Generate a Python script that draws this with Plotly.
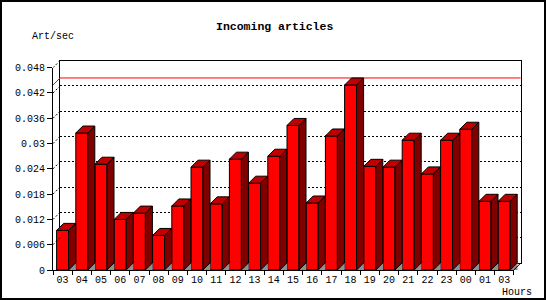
import plotly.graph_objects as go

# ---------------- data ----------------
hours = ["03", "04", "05", "06", "07", "08", "09", "10", "11", "12", "13", "14",
         "15", "16", "17", "18", "19", "20", "21", "22", "23", "00", "01", "03"]
values = [0.0094, 0.0325, 0.0251, 0.0120, 0.0135, 0.0082, 0.0152, 0.0244,
          0.0157, 0.0263, 0.0206, 0.0270, 0.0343, 0.0159, 0.0318, 0.0439,
          0.0246, 0.0244, 0.0308, 0.0228, 0.0308, 0.0334, 0.0163, 0.0163]
y_tickvals = [0, 0.006, 0.012, 0.018, 0.024, 0.030, 0.036, 0.042, 0.048]
y_ticktext = ["0", "0.006", "0.012", "0.018", "0.024", "0.03", "0.036", "0.042", "0.048"]
title = "Incoming articles"
y_title = "Art/sec"
x_title = "Hours"
peak = max(values)

# ---------------- layout geometry (pixels) ----------------
W, H = 550, 300
FX0, FX1 = 53.0, 513.8      # front plot left/right
FY0, FY1 = 270.0, 67.7      # front plot bottom/top (from top)
DEPTH = 7.0                 # 3D offset in px (right & up)
BAR_W = 0.625
n = len(values)
YMAX = y_tickvals[-1]
x_lo, x_hi = -0.5, n - 0.5
sx = (FX1 - FX0) / (x_hi - x_lo)
sy = (FY0 - FY1) / YMAX
ddx = DEPTH / sx
ddy = DEPTH / sy
xs = list(range(n))
hw = BAR_W / 2

FONT = "Liberation Mono"

fig = go.Figure()

# back plane (subplot x/y): grid + peak line
fig.add_trace(go.Scatter(x=[x_lo, x_hi], y=[peak, peak], mode="lines",
                         line=dict(color="#ff0000", width=1),
                         xaxis="x", yaxis="y", hoverinfo="skip", showlegend=False))

# front faces (subplot x2/y2)
fig.add_trace(go.Bar(x=xs, y=values, width=BAR_W, marker=dict(color="#ff0000",
                     line=dict(color="black", width=1)),
                     xaxis="x2", yaxis="y2", showlegend=False, hoverinfo="skip"))

# depth faces (subplot x3/y3)
tops_x, tops_y, side_x, side_y, sh_x, sh_y = [], [], [], [], [], []
for c, v in zip(xs, values):
    tops_x += [c - hw, c + hw, c + hw + ddx, c - hw + ddx, c - hw, None]
    tops_y += [v, v, v + ddy, v + ddy, v, None]
    side_x += [c + hw, c + hw, c + hw + ddx, c + hw + ddx, c + hw, None]
    side_y += [0, v, v + ddy, ddy, 0, None]
    sh_x += [c + hw, c + hw + ddx, c + hw + ddx, c + hw, None]
    sh_y += [0, ddy, 0, 0, None]

fig.add_trace(go.Scatter(x=sh_x, y=sh_y, mode="lines", fill="toself",
                         fillcolor="#909090", line=dict(color="#909090", width=0.5),
                         xaxis="x3", yaxis="y3", hoverinfo="skip", showlegend=False))
fig.add_trace(go.Scatter(x=side_x, y=side_y, mode="lines", fill="toself",
                         fillcolor="#800000", line=dict(color="black", width=1),
                         xaxis="x3", yaxis="y3", hoverinfo="skip", showlegend=False))
fig.add_trace(go.Scatter(x=tops_x, y=tops_y, mode="lines", fill="toself",
                         fillcolor="#c00000", line=dict(color="black", width=1),
                         xaxis="x3", yaxis="y3", hoverinfo="skip", showlegend=False))
# left diagonal stubs from front axis to back plane
stub_x, stub_y = [], []
for t in y_tickvals[1:]:
    stub_x += [x_lo, x_lo + ddx, None]
    stub_y += [t, t + ddy, None]
fig.add_trace(go.Scatter(x=stub_x, y=stub_y, mode="lines",
                         line=dict(color="black", width=1, dash="2px,2px"),
                         xaxis="x3", yaxis="y3", hoverinfo="skip", showlegend=False))
fig.add_trace(go.Scatter(x=[x_lo, x_lo + ddx], y=[peak, peak + ddy], mode="lines",
                         line=dict(color="#ff0000", width=1),
                         xaxis="x3", yaxis="y3", hoverinfo="skip", showlegend=False))
fig.add_trace(go.Scatter(x=[x_hi, x_hi + ddx], y=[0, ddy], mode="lines",
                         line=dict(color="black", width=1),
                         xaxis="x3", yaxis="y3", hoverinfo="skip", showlegend=False))

def px_x(p):
    return p / W

def px_y(p):
    return 1 - p / H

tickfont = dict(family=FONT, size=10, color="black")

fig.update_layout(
    template="none",
    width=W, height=H,
    margin=dict(l=0, r=0, t=0, b=0, pad=0),
    paper_bgcolor="white", plot_bgcolor="rgba(0,0,0,0)",
    showlegend=False,
    # back plane
    xaxis=dict(domain=[px_x(FX0 + DEPTH), px_x(FX1 + DEPTH)], range=[x_lo, x_hi],
               showline=True, mirror=True, linecolor="black", linewidth=1,
               showgrid=False, zeroline=False, showticklabels=False, ticks="",
               automargin=False, fixedrange=True),
    yaxis=dict(domain=[px_y(FY0 - DEPTH), px_y(FY1 - DEPTH)], range=[0, YMAX],
               showline=True, mirror=True, linecolor="black", linewidth=1,
               tickvals=y_tickvals, showgrid=True, gridcolor="black", gridwidth=1,
               griddash="2px,2px", zeroline=False, showticklabels=False, ticks="",
               automargin=False, fixedrange=True),
    # front
    xaxis2=dict(domain=[px_x(FX0), px_x(FX1)], range=[x_lo, x_hi], anchor="y2",
                showline=True, linecolor="black", linewidth=1,
                tickvals=xs, ticktext=hours, ticks="", showgrid=False, zeroline=False,
                minor=dict(tickvals=[x_lo + i for i in range(n + 1)], ticks="outside",
                           ticklen=4, tickcolor="black", tickwidth=1, showgrid=False),
                tickfont=tickfont, automargin=False, fixedrange=True),
    yaxis2=dict(domain=[px_y(FY0), px_y(FY1)], range=[0, YMAX], anchor="x2",
                showline=True, linecolor="black", linewidth=1,
                tickvals=y_tickvals, ticktext=y_ticktext, ticks="outside", ticklen=5,
                tickcolor="black", showgrid=False, zeroline=False,
                tickfont=tickfont, automargin=False, fixedrange=True),
    # depth
    xaxis3=dict(domain=[px_x(FX0), px_x(FX1 + DEPTH)], range=[x_lo, x_hi + ddx],
                anchor="y3", visible=False, automargin=False, fixedrange=True),
    yaxis3=dict(domain=[px_y(FY0), px_y(FY1 - DEPTH)], range=[0, YMAX + ddy],
                anchor="x3", visible=False, automargin=False, fixedrange=True),
    annotations=[
        dict(text="<b>" + title + "</b>", x=px_x(274), y=px_y(26.7), xref="paper",
             yref="paper", showarrow=False, xanchor="center", yanchor="middle",
             font=dict(family=FONT, size=11.5, color="black")),
        dict(text=y_title, x=px_x(30), y=px_y(36.7), xref="paper", yref="paper",
             showarrow=False, xanchor="left", yanchor="middle",
             font=dict(family=FONT, size=10, color="black")),
        dict(text=x_title, x=px_x(534), y=px_y(292.7), xref="paper", yref="paper",
             showarrow=False, xanchor="right", yanchor="middle",
             font=dict(family=FONT, size=10, color="black")),
    ],
    shapes=[dict(type="rect", xref="paper", yref="paper", x0=px_x(1), x1=px_x(545),
                 y0=px_y(299), y1=px_y(1), line=dict(color="black", width=2),
                 fillcolor="rgba(0,0,0,0)")],
)

fig.write_html("out.html")
